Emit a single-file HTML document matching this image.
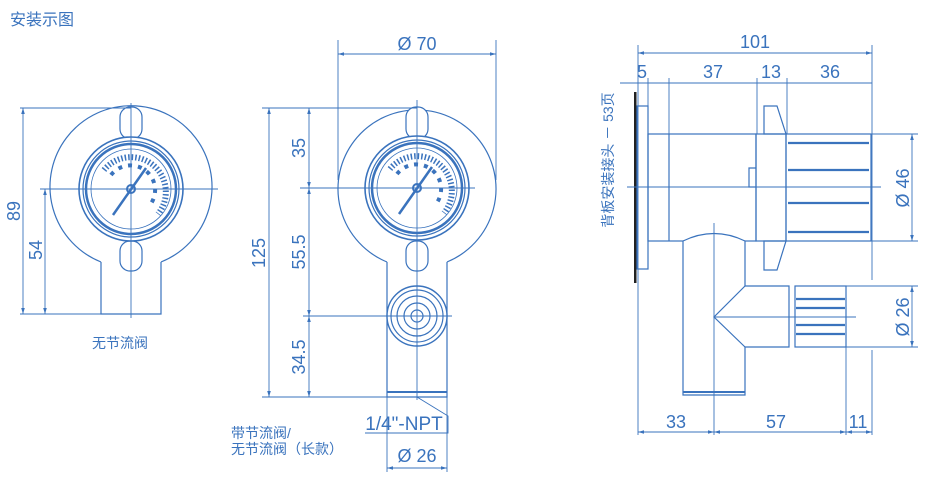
<!DOCTYPE html>
<html><head><meta charset="utf-8"><style>
body{margin:0;background:#fff;}
svg{display:block;font-family:"Liberation Sans","Noto Sans CJK SC",sans-serif;}
</style></head><body>
<svg width="932" height="500" viewBox="0 0 932 500" xmlns="http://www.w3.org/2000/svg">
<defs>
<marker id="a" viewBox="0 0 10 6" refX="10" refY="3" markerWidth="8" markerHeight="4" orient="auto-start-reverse"><path d="M0,0L10,3L0,6z" fill="#3a73bd"/></marker>
</defs>
<g fill="none" stroke="#3a73bd" stroke-width="1.2">
<!-- LEFT VIEW -->
<path d="M101,262 A81,81 0 1 1 161,262"/>
<path d="M101,262 V314 H161 V262"/>
<rect x="120" y="107" width="22" height="32" rx="10" fill="#fff"/>
<rect x="120" y="241" width="22" height="30" rx="10" fill="#fff"/>
<circle cx="131" cy="189" r="52" fill="#fff" stroke-width="1.6"/>
<circle cx="131" cy="189" r="48"/>
<circle cx="131" cy="189" r="45" stroke-width="2.5"/>
<circle cx="131" cy="189" r="40" stroke-width="0.8"/>
<path d="M104,170 A32,32 0 1 1 158,214" stroke-width="6" stroke-dasharray="1.5 2"/>
<path d="M111,175 A22,22 0 1 1 150,205" stroke-width="4" stroke-dasharray="4 6"/>
<path d="M113,215 L146,168" stroke-width="2.5"/>
<circle cx="131" cy="189" r="4" stroke-width="2"/>
<line x1="131" y1="103" x2="131" y2="318" stroke-width="0.9"/>
<line x1="40" y1="189" x2="218" y2="189" stroke-width="0.9"/>
<line x1="20" y1="108" x2="131" y2="108" stroke-width="0.9"/>
<line x1="20" y1="314" x2="161" y2="314" stroke-width="0.9"/>
<line x1="23" y1="108" x2="23" y2="314" stroke-width="0.9" marker-start="url(#a)" marker-end="url(#a)"/>
<line x1="45" y1="189" x2="45" y2="314" stroke-width="0.9" marker-start="url(#a)" marker-end="url(#a)"/>

<!-- MIDDLE VIEW -->
<path d="M387,262 A79,79 0 1 1 447,262"/>
<path d="M387,262 V397 H447 V262"/>
<line x1="387" y1="392" x2="447" y2="392" stroke-width="2"/>
<rect x="406" y="107" width="22" height="32" rx="10" fill="#fff"/>
<rect x="406" y="241" width="22" height="30" rx="10" fill="#fff"/>
<circle cx="417" cy="188" r="52" fill="#fff" stroke-width="1.6"/>
<circle cx="417" cy="188" r="48"/>
<circle cx="417" cy="188" r="45" stroke-width="2.5"/>
<circle cx="417" cy="188" r="40" stroke-width="0.8"/>
<path d="M390,169 A32,32 0 1 1 444,213" stroke-width="6" stroke-dasharray="1.5 2"/>
<path d="M397,174 A22,22 0 1 1 436,204" stroke-width="4" stroke-dasharray="4 6"/>
<path d="M399,214 L432,167" stroke-width="2.5"/>
<circle cx="417" cy="188" r="4" stroke-width="2"/>
<circle cx="417" cy="316" r="30" fill="#fff" stroke-width="1.4"/>
<circle cx="417" cy="316" r="26"/>
<circle cx="417" cy="316" r="20"/>
<circle cx="417" cy="316" r="13"/>
<circle cx="417" cy="316" r="6"/>
<line x1="417" y1="100" x2="417" y2="400" stroke-width="0.9"/>
<line x1="300" y1="188" x2="475" y2="188" stroke-width="0.9"/>
<line x1="303" y1="316" x2="452" y2="316" stroke-width="0.9"/>
<line x1="338" y1="40" x2="338" y2="180" stroke-width="0.9"/>
<line x1="496" y1="40" x2="496" y2="180" stroke-width="0.9"/>
<line x1="338" y1="54" x2="496" y2="54" stroke-width="0.9" marker-start="url(#a)" marker-end="url(#a)"/>
<line x1="262" y1="108" x2="417" y2="108" stroke-width="0.9"/>
<line x1="262" y1="397" x2="387" y2="397" stroke-width="0.9"/>
<line x1="269" y1="108" x2="269" y2="397" stroke-width="0.9" marker-start="url(#a)" marker-end="url(#a)"/>
<line x1="309" y1="108" x2="309" y2="188" stroke-width="0.9" marker-start="url(#a)" marker-end="url(#a)"/>
<line x1="309" y1="188" x2="309" y2="316" stroke-width="0.9" marker-start="url(#a)" marker-end="url(#a)"/>
<line x1="309" y1="316" x2="309" y2="397" stroke-width="0.9" marker-start="url(#a)" marker-end="url(#a)"/>
<path d="M417,397 L448,416 V433 H365" stroke-width="0.9"/>
<line x1="387" y1="397" x2="387" y2="472" stroke-width="0.9"/>
<line x1="447" y1="397" x2="447" y2="472" stroke-width="0.9"/>
<line x1="387" y1="468" x2="447" y2="468" stroke-width="0.9" marker-start="url(#a)" marker-end="url(#a)"/>

<!-- RIGHT VIEW -->
<rect x="634" y="92" width="2.5" height="191" fill="#222" stroke="none"/>
<rect x="637" y="106" width="11" height="163"/>
<rect x="648" y="134" width="108" height="107"/>
<line x1="669" y1="134" x2="669" y2="241"/>
<path d="M756,168 H749 V187 H756"/>
<rect x="756" y="134" width="30" height="107"/>
<path d="M764,106 H777 L786,134 H764 Z"/>
<path d="M764,270 H777 L786,241 H764 Z"/>
<rect x="786" y="134" width="85" height="107"/>
<g stroke-width="2.2"><line x1="788" y1="143" x2="869" y2="143"/><line x1="788" y1="170" x2="869" y2="170"/><line x1="788" y1="203" x2="869" y2="203"/><line x1="788" y1="232" x2="869" y2="232"/></g>
<path d="M683,395 V241 Q714,226 745,241 V286 H789 V347 H745 V395 Z" fill="#fff"/>
<line x1="683" y1="392" x2="745" y2="392" stroke-width="2"/>
<path d="M745,286 L714,317 L745,347"/>
<rect x="795" y="286" width="51" height="61"/>
<g stroke-width="2.2"><line x1="796" y1="299" x2="845" y2="299"/><line x1="796" y1="308" x2="845" y2="308"/><line x1="796" y1="325" x2="845" y2="325"/><line x1="796" y1="334" x2="845" y2="334"/></g>
<line x1="627" y1="187" x2="881" y2="187" stroke-width="0.9"/>
<line x1="714" y1="223" x2="714" y2="400" stroke-width="0.9"/>
<line x1="714" y1="317" x2="856" y2="317" stroke-width="0.9"/>
<g stroke-width="0.9">
<line x1="638" y1="45" x2="638" y2="435"/><line x1="648" y1="78" x2="648" y2="106"/><line x1="669" y1="78" x2="669" y2="134"/><line x1="757" y1="78" x2="757" y2="134"/><line x1="787" y1="78" x2="787" y2="134"/><line x1="872" y1="45" x2="872" y2="280"/><line x1="872" y1="350" x2="872" y2="435"/><line x1="846" y1="347" x2="846" y2="435"/><line x1="714" y1="400" x2="714" y2="435"/>
<line x1="638" y1="53" x2="872" y2="53" marker-start="url(#a)" marker-end="url(#a)"/>
<line x1="620" y1="83" x2="872" y2="83"/>
<line x1="872" y1="134" x2="918" y2="134"/><line x1="872" y1="241" x2="918" y2="241"/>
<line x1="846" y1="286" x2="918" y2="286"/><line x1="846" y1="347" x2="918" y2="347"/>
<line x1="912" y1="134" x2="912" y2="241" marker-start="url(#a)" marker-end="url(#a)"/>
<line x1="912" y1="286" x2="912" y2="347" marker-start="url(#a)" marker-end="url(#a)"/>
<line x1="638" y1="432" x2="714" y2="432" marker-start="url(#a)" marker-end="url(#a)"/>
<line x1="714" y1="432" x2="846" y2="432" marker-start="url(#a)" marker-end="url(#a)"/>
<line x1="846" y1="432" x2="872" y2="432" marker-start="url(#a)" marker-end="url(#a)"/>
</g>
</g>
<g fill="#3a73bd" font-size="18">
<text x="10" y="25" font-size="16">安装示图</text>
<text x="92" y="348" font-size="14">无节流阀</text>
<text x="231" y="438" font-size="14">带节流阀/</text>
<text x="231" y="454" font-size="14">无节流阀（长款）</text>
<text transform="translate(20,211) rotate(-90)" text-anchor="middle">89</text>
<text transform="translate(42,250) rotate(-90)" text-anchor="middle">54</text>
<text x="417" y="50" text-anchor="middle">Ø 70</text>
<text transform="translate(265,253) rotate(-90)" text-anchor="middle">125</text>
<text transform="translate(305,148) rotate(-90)" text-anchor="middle">35</text>
<text transform="translate(305,252) rotate(-90)" text-anchor="middle">55.5</text>
<text transform="translate(305,357) rotate(-90)" text-anchor="middle">34.5</text>
<text x="404" y="430" text-anchor="middle" font-size="19">1/4"-NPT</text>
<text x="417" y="462" text-anchor="middle">Ø 26</text>
<text x="755" y="48" text-anchor="middle">101</text>
<text x="642" y="78" text-anchor="middle">5</text>
<text x="713" y="78" text-anchor="middle">37</text>
<text x="771" y="78" text-anchor="middle">13</text>
<text x="830" y="78" text-anchor="middle">36</text>
<text x="676" y="428" text-anchor="middle">33</text>
<text x="776" y="428" text-anchor="middle">57</text>
<text x="858" y="428" text-anchor="middle">11</text>
<text transform="translate(909,188) rotate(-90)" text-anchor="middle">Ø 46</text>
<text transform="translate(909,317) rotate(-90)" text-anchor="middle">Ø 26</text>
<text transform="translate(613,160) rotate(-90)" text-anchor="middle" font-size="14">背板安装接头 － 53页</text>
</g>
</svg>
</body></html>
